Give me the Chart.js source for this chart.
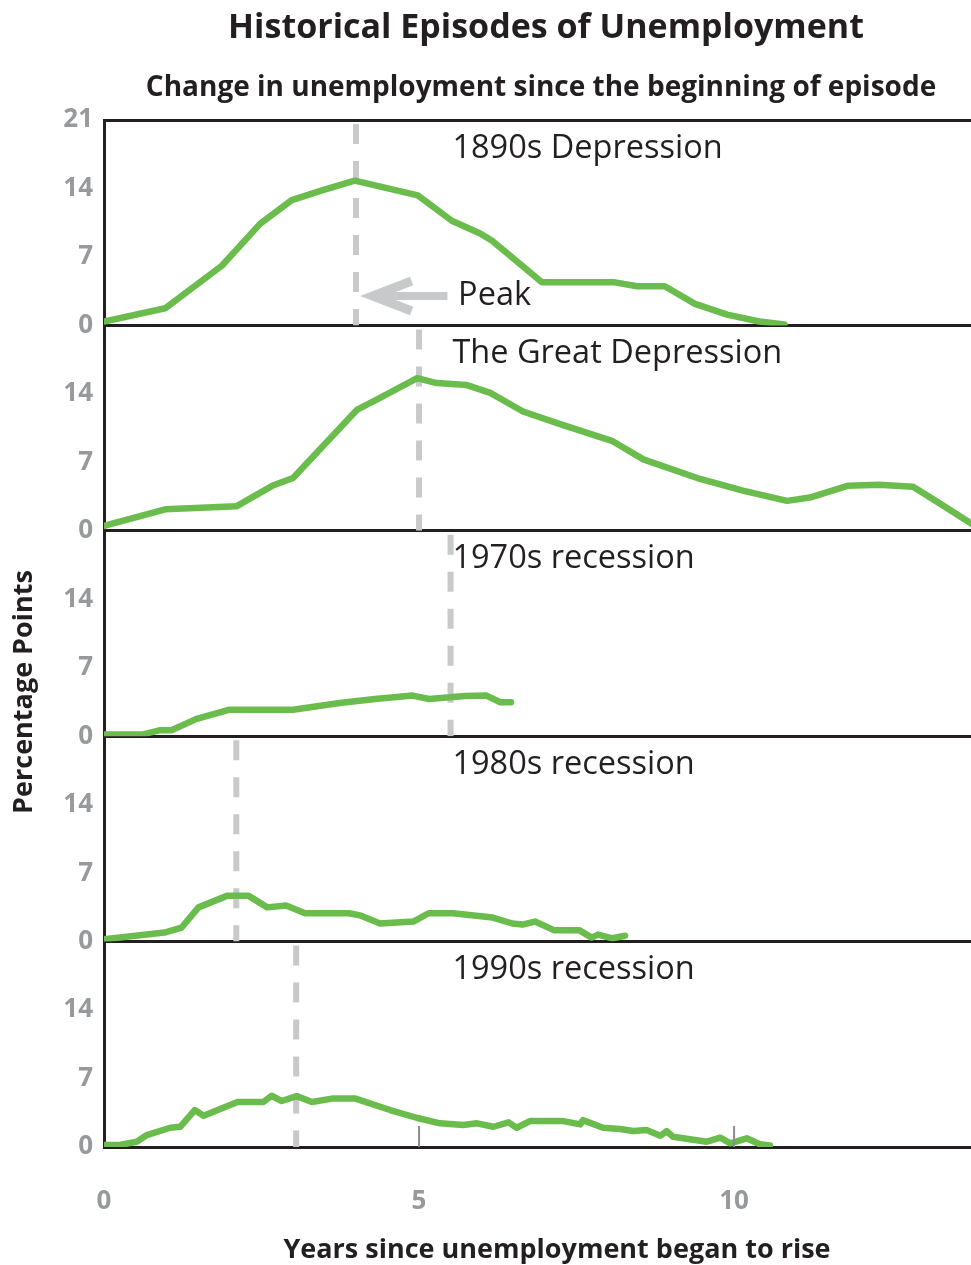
<!DOCTYPE html>
<html>
<head>
<meta charset="utf-8">
<script src="https://cdn.jsdelivr.net/npm/chart.js@4.4.1/dist/chart.umd.min.js"></script>
<style>
  body { margin: 0; background: #fff; }
  #wrap { width: 971px; height: 1265px; }
</style>
</head>
<body>
<div id="wrap"><canvas id="myChart" width="971" height="1265"></canvas></div>
<script>
// episodes, top to bottom
var panelNames = ["1890s Depression", "The Great Depression", "1970s recession", "1980s recession", "1990s recession"];
var peakYears = [4.0, 5.0, 5.5, 2.1, 3.05];

// years since start / change in unemployment (percentage points)
var x1890 = [0, 0.97, 1.87, 2.48, 2.98, 3.46, 3.98, 4.98, 5.52, 5.97, 6.16, 6.95, 8.11, 8.46, 8.9, 9.38, 9.89, 10.4, 10.8];
var y1890 = [0.4, 1.75, 6.1, 10.4, 12.8, 13.8, 14.8, 13.3, 10.7, 9.4, 8.65, 4.4, 4.4, 4.0, 4.0, 2.2, 1.1, 0.4, 0.1];

var xGreat = [0, 0.97, 2.1, 2.67, 3.0, 4.02, 4.38, 4.97, 5.28, 5.76, 6.13, 6.65, 7.24, 8.06, 8.56, 9.46, 10.14, 10.84, 11.2, 11.8, 12.3, 12.84, 13.2, 13.8];
var yGreat = [0.5, 2.2, 2.5, 4.6, 5.4, 12.4, 13.6, 15.6, 15.1, 14.9, 14.1, 12.2, 10.9, 9.2, 7.3, 5.3, 4.1, 3.06, 3.4, 4.6, 4.7, 4.5, 3.06, 0.6];

var x1970 = [0, 0.6, 0.88, 1.07, 1.47, 1.98, 3.0, 3.74, 4.3, 4.9, 5.16, 5.73, 6.07, 6.29, 6.46];
var y1970 = [0.17, 0.17, 0.6, 0.6, 1.77, 2.7, 2.7, 3.4, 3.8, 4.15, 3.8, 4.1, 4.15, 3.47, 3.47];

var x1980 = [0, 0.96, 1.23, 1.5, 1.96, 2.29, 2.59, 2.89, 3.19, 3.89, 4.08, 4.38, 4.91, 5.15, 5.54, 6.17, 6.48, 6.64, 6.84, 7.14, 7.54, 7.74, 7.84, 8.07, 8.27];
var y1980 = [0.24, 0.92, 1.43, 3.5, 4.7, 4.7, 3.5, 3.7, 2.9, 2.9, 2.65, 1.85, 2.05, 2.9, 2.9, 2.46, 1.85, 1.74, 2.05, 1.17, 1.17, 0.41, 0.72, 0.34, 0.6];

var x1990 = [0, 0.25, 0.52, 0.68, 1.05, 1.21, 1.44, 1.58, 2.12, 2.53, 2.66, 2.82, 3.06, 3.3, 3.64, 3.98, 4.54, 4.96, 5.33, 5.7, 5.92, 6.18, 6.42, 6.55, 6.76, 7.29, 7.56, 7.6, 7.92, 8.19, 8.4, 8.61, 8.83, 8.93, 9.03, 9.57, 9.78, 9.94, 10.2, 10.41, 10.57];
var y1990 = [0.2, 0.2, 0.54, 1.22, 1.97, 2.07, 3.78, 3.2, 4.6, 4.6, 5.24, 4.7, 5.2, 4.6, 4.97, 4.97, 3.78, 2.99, 2.42, 2.24, 2.42, 2.07, 2.52, 1.97, 2.65, 2.65, 2.31, 2.75, 1.97, 1.84, 1.63, 1.73, 1.15, 1.63, 1.05, 0.54, 0.95, 0.38, 0.89, 0.28, 0.15];

var xSeries = [x1890, xGreat, x1970, x1980, x1990];
var ySeries = [y1890, yGreat, y1970, y1980, y1990];

var yTicksTop = [0, 7, 14, 21];
var yTicks = [0, 7, 14];
var xTicks = [0, 5, 10];

var axisIds = ["y1", "y2", "y3", "y4", "y5"];
var green = "#6abd4c";
var peakGray = "#c8c9ca";
var ink = "#231f20";
var tickGray = "#97999c";
var font = "'Open Sans', 'Noto Sans', sans-serif";

var datasets = [];
ySeries.forEach((vals, i) => {
  datasets.push({
    label: panelNames[i],
    data: vals.map((v, j) => ({ x: xSeries[i][j], y: v })),
    yAxisID: axisIds[i],
    borderColor: green,
    borderWidth: 6.5,
    borderJoinStyle: "round",
    borderCapStyle: "round",
    pointRadius: 0,
    tension: 0
  });
});
peakYears.forEach((p, i) => {
  datasets.push({
    label: "peak " + panelNames[i],
    data: [{ x: p, y: 21 }, { x: p, y: 0 }],
    yAxisID: axisIds[i],
    borderColor: peakGray,
    borderWidth: 6,
    borderDash: [20, 17],
    borderDashOffset: -4,
    pointRadius: 0
  });
});

function panelAxis(i) {
  return {
    type: "linear",
    position: "left",
    stack: "panels",
    stackWeight: 1,
    weight: 5 - i,
    min: 0,
    max: 21,
    afterBuildTicks: s => { s.ticks = (i === 0 ? yTicksTop : yTicks).map(v => ({ value: v })); },
    afterFit: s => { s.width = 104; },
    grid: {
      drawTicks: false,
      lineWidth: 3,
      color: c => (c.tick && (c.tick.value === 0 || (i === 0 && c.tick.value === 21))) ? ink : "rgba(0,0,0,0)"
    },
    border: { display: true, color: ink, width: 3 },
    ticks: { padding: 11, color: tickGray, font: { family: font, size: 26, weight: "bold" } }
  };
}

var scales = {
  x: {
    type: "linear",
    min: 0,
    max: 13.76,
    afterBuildTicks: s => { s.ticks = xTicks.map(v => ({ value: v })); },
    afterFit: s => { s.height = 118; },
    grid: { display: false, drawTicks: false },
    border: { display: false },
    ticks: { padding: 39, color: tickGray, font: { family: font, size: 26, weight: "bold" } }
  }
};
axisIds.forEach((id, i) => { scales[id] = panelAxis(i); });

// titles, panel names, peak arrow, small x ticks
var decorations = {
  id: "decorations",
  afterDatasetsDraw(chart) {
    var ctx = chart.ctx;
    var xs = chart.scales.x;
    ctx.save();

    // small tick marks on the bottom panel
    var bottom = chart.scales.y5.getPixelForValue(0);
    ctx.strokeStyle = "#8a8c8e";
    ctx.lineWidth = 2;
    xTicks.slice(1).forEach(t => {
      var px = xs.getPixelForValue(t);
      ctx.beginPath();
      ctx.moveTo(px, bottom - 21);
      ctx.lineTo(px, bottom);
      ctx.stroke();
    });

    // panel names
    ctx.fillStyle = ink;
    ctx.font = "32.5px " + font;
    ctx.textAlign = "left";
    ctx.textBaseline = "middle";
    panelNames.forEach((name, i) => {
      var ys = chart.scales[axisIds[i]];
      ctx.fillText(name, xs.getPixelForValue(5.53), ys.getPixelForValue(18.1));
    });

    // peak arrow
    var y1 = chart.scales.y1;
    var ay = y1.getPixelForValue(3.0);
    var tip = xs.getPixelForValue(peakYears[0] + 0.2);
    var tail = xs.getPixelForValue(5.45);
    ctx.strokeStyle = peakGray;
    ctx.lineWidth = 8;
    ctx.beginPath();
    ctx.moveTo(tail, ay);
    ctx.lineTo(tip + 4, ay);
    ctx.stroke();
    ctx.lineWidth = 9;
    ctx.beginPath();
    ctx.moveTo(tip + 43, ay - 15);
    ctx.lineTo(tip + 4, ay);
    ctx.lineTo(tip + 43, ay + 15);
    ctx.stroke();
    ctx.fillStyle = ink;
    ctx.fillText("Peak", xs.getPixelForValue(5.62), ay);

    // chart titles
    ctx.textAlign = "center";
    ctx.font = "bold 34px " + font;
    ctx.fillText("Historical Episodes of Unemployment", 546, 28);
    ctx.font = "bold 28px " + font;
    ctx.fillText("Change in unemployment since the beginning of episode", 541, 88);
    ctx.font = "bold 27px " + font;
    ctx.fillText("Years since unemployment began to rise", 557, 1250);
    ctx.translate(24, 692);
    ctx.rotate(-Math.PI / 2);
    ctx.fillText("Percentage Points", 0, 0);
    ctx.restore();
  }
};

new Chart("myChart", {
  type: "line",
  data: { datasets: datasets },
  options: {
    responsive: false,
    animation: false,
    layout: { padding: { top: 120, right: 0, bottom: 0, left: 0 } },
    plugins: { legend: { display: false }, tooltip: { enabled: false }, title: { display: false } },
    scales: scales
  },
  plugins: [decorations]
});
</script>
</body>
</html>
